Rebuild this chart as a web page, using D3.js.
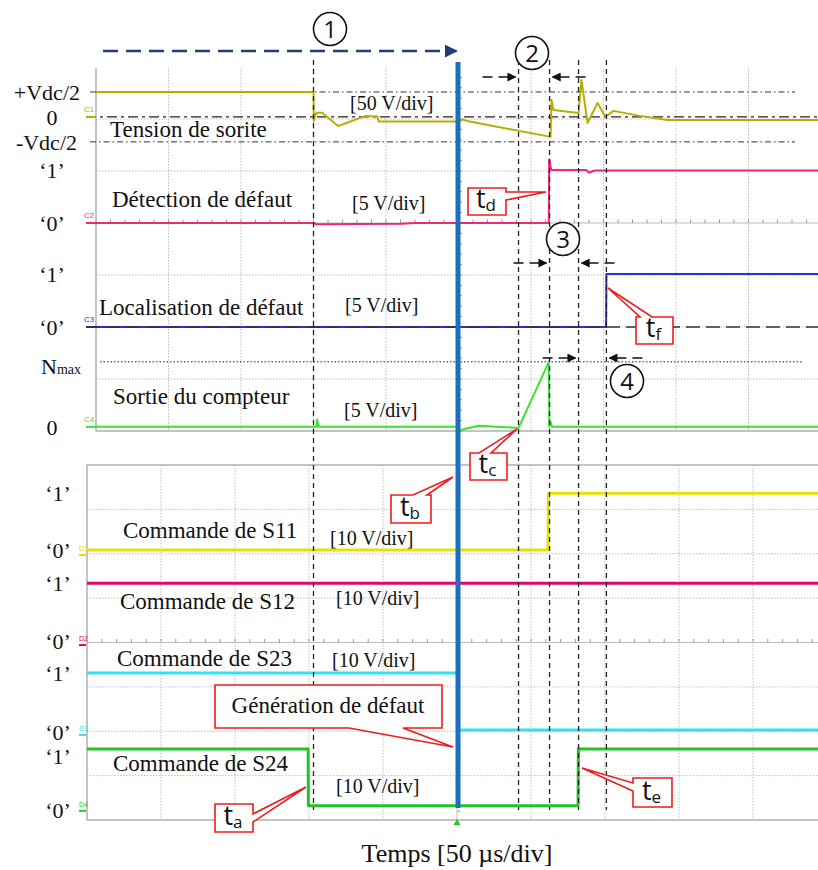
<!DOCTYPE html>
<html>
<head>
<meta charset="utf-8">
<script src="https://cdn.jsdelivr.net/npm/d3@7/dist/d3.min.js"></script>
<style>
  body { margin: 0; background: #fff; }
  .serif { font-family: "Liberation Serif", "Times New Roman", serif; fill: #111; }
  .sans { font-family: "Open Sans", "Liberation Sans", sans-serif; fill: #111; }
</style>
</head>
<body>
<script>
// ---- data (time in µs, trigger at 0 ; levels in volts) ----
var eventT = [-100, 41.4, 62.8, 82.8, 102];          // ta, tc, td, te, tf

// upper screen : C1 output voltage (50 V/div)
var c1T = [-250, -100, -99.8, -99, -98, -94, -83, -64, -56, -55, 0, 3, 6, 63.5, 64.1, 65.5, 82.8, 84.8, 89, 95.9, 101.4, 106.9, 125, 144, 250];
var c1V = [24, 24, -4, 1, 4, 4, -8.7, 1, 0.5, -4.5, -4.5, -2.5, -4, -19.2, 16.3, 6.7, 3.8, 35.6, -5.8, 13.5, 0, 5.8, 1, -2.9, -2.9];
// C2 fault detection (5 V/div)
var c2T = [-250, -100, -98, -40, -30, 62.3, 62.5, 64, 88, 90, 94, 250];
var c2V = [0, 0, -0.12, -0.08, 0, 0, 6.1, 5.1, 5.1, 4.85, 5.05, 5.05];
// C3 fault localisation (5 V/div)
var c3T = [-250, 101.8, 102, 250];
var c3V = [0, 0, 5.1, 5.1];
// C4 counter output (5 V/div)
var c4T = [-250, -98, -97.5, -96.5, 0, 1, 4, 14, 41.4, 62.3, 62.6, 63.5, 64.5, 250];
var c4V = [0, 0, 0.7, 0, 0, -0.4, -0.2, 0.1, -0.1, 6.25, 0, 0.5, 0, 0];

// lower screen : gate commands (10 V/div)
var s11T = [-250, 61.5, 61.8, 250];
var s11V = [0, 0, 12.8, 12.8];
var s12T = [-250, 250];
var s12V = [12.8, 12.8];
var s23T = [-250, 0.4, 0.6, 250];
var s23V = [12.8, 12.8, 0, 0];
var s24T = [-250, -100.6, -100.4, 81.8, 82, 250];
var s24V = [12.8, 12.8, 0, 0, 12.8, 12.8];

// level tick labels
var upLabText = ["+Vdc/2", "0", "-Vdc/2", "\u20181\u2019", "\u20180\u2019", "\u20181\u2019", "\u20180\u2019", "Nmax", "0"];
var upLabChan = [0, 0, 0, 1, 1, 2, 2, 3, 3];
var upLabVal  = [24, 0, -24, 5.1, 0, 5.1, 0, 6.25, 0];
var loLabText = ["\u20181\u2019", "\u20180\u2019", "\u20181\u2019", "\u20180\u2019", "\u20181\u2019", "\u20180\u2019", "\u20181\u2019", "\u20180\u2019"];
var loLabChan = [0, 0, 1, 1, 2, 2, 3, 3];
var loLabVal  = [12.8, 0, 12.8, -0.3, 12.8, -0.5, 11.2, -1.1];

var upNames = ["Tension de sorite", "D\u00e9tection de d\u00e9faut", "Localisation de d\u00e9faut", "Sortie du compteur"];
var upScales = ["[50 V/div]", "[5 V/div]", "[5 V/div]", "[5 V/div]"];
var loNames = ["Commande de S11", "Commande de S12", "Commande de S23", "Commande de S24"];
var loScales = ["[10 V/div]", "[10 V/div]", "[10 V/div]", "[10 V/div]"];

// ---- layout ----
var width = 818, height = 870;
var svg = d3.select("body").append("svg")
    .attr("width", width).attr("height", height);

var defs = svg.append("defs");
defs.append("marker").attr("id", "headK")
    .attr("viewBox", "0 0 10 10").attr("refX", 9).attr("refY", 5)
    .attr("markerWidth", 9).attr("markerHeight", 9).attr("markerUnits", "userSpaceOnUse")
    .attr("orient", "auto")
  .append("path").attr("d", "M0,0L10,5L0,10z").attr("fill", "#111");
defs.append("marker").attr("id", "headB")
    .attr("viewBox", "0 0 10 10").attr("refX", 9).attr("refY", 5)
    .attr("markerWidth", 13).attr("markerHeight", 13).attr("markerUnits", "userSpaceOnUse")
    .attr("orient", "auto")
  .append("path").attr("d", "M0,0L10,5L0,10z").attr("fill", "#1f3d78");

// scales: 10 time divisions of 50 µs, 8 vertical divisions
var upX = d3.scaleLinear().domain([-250, 250]).range([96, 821]);
var loX = d3.scaleLinear().domain([-250, 250]).range([87, 827]);
var upDiv = d3.scaleLinear().domain([-4, 4]).range([431, 15]);
var loDiv = d3.scaleLinear().domain([-4, 4]).range([820, 465]);

var upCh = [
  {t: c1T, v: c1V, ground: 2.04, vdiv: 50, color: "#b4b000", tag: "C1"},
  {t: c2T, v: c2V, ground: 0, vdiv: 5, color: "#f0267f", tag: "C2"},
  {t: c3T, v: c3V, ground: -2.0, vdiv: 5, color: "#2a2ee0", tag: "C3"},
  {t: c4T, v: c4V, ground: -3.92, vdiv: 5, color: "#35e435", tag: "C4"}
];
var loCh = [
  {t: s11T, v: s11V, ground: 2.085, vdiv: 10, color: "#e6e100", tag: "D1"},
  {t: s12T, v: s12V, ground: 0.056, vdiv: 10, color: "#d80a62", tag: "D2"},
  {t: s23T, v: s23V, ground: -1.97, vdiv: 10, color: "#33e2f0", tag: "D3"},
  {t: s24T, v: s24V, ground: -3.68, vdiv: 10, color: "#22c522", tag: "D4"}
];
upCh.forEach(function(c){ c.y = function(v){ return upDiv(c.ground + v / c.vdiv); }; c.x = upX; });
loCh.forEach(function(c){ c.y = function(v){ return loDiv(c.ground + v / c.vdiv); }; c.x = loX; });

// ---- grids ----
function grid(g, xs, ys, x0, x1, y0, y1){
    var cx = xs(0), cy = ys(0);
    g.selectAll(".vg").data(d3.range(-200, 251, 50)).enter().append("line")
        .attr("x1", xs).attr("x2", xs).attr("y1", y0).attr("y2", y1)
        .attr("stroke", "#bdbdbd").attr("stroke-width", 1)
        .attr("stroke-dasharray", function(d){ return d === 0 ? null : "1.5,1.5"; });
    g.selectAll(".hg").data(d3.range(-3, 4).filter(function(d){ return ys(d) > y0 + 2; })).enter().append("line")
        .attr("x1", x0).attr("x2", x1).attr("y1", ys).attr("y2", ys)
        .attr("stroke", "#bdbdbd").attr("stroke-width", 1)
        .attr("stroke-dasharray", function(d){ return d === 0 ? null : "1.5,1.5"; });
    // minor ticks on centre lines
    g.selectAll(".mx").data(d3.range(-250, 251, 10)).enter().append("line")
        .attr("x1", xs).attr("x2", xs).attr("y1", cy - 3.5).attr("y2", cy)
        .attr("stroke", "#999");
    g.selectAll(".my").data(d3.range(-4, 4.01, 0.2).filter(function(d){ return ys(d) > y0 && ys(d) < y1; }))
        .enter().append("line")
        .attr("x1", cx).attr("x2", cx + 3.5).attr("y1", ys).attr("y2", ys)
        .attr("stroke", "#999");
}
var gUp = svg.append("g");
grid(gUp, upX, upDiv, 96, 818, 68, 431);
gUp.append("path").attr("d", "M96,68V431H818").attr("fill", "none").attr("stroke", "#b0b0b0").attr("stroke-width", 1.5);

var gLo = svg.append("g");
grid(gLo, loX, loDiv, 87, 818, 465, 820);
gLo.append("path").attr("d", "M818,465H87V820H818").attr("fill", "none").attr("stroke", "#b0b0b0").attr("stroke-width", 1.5);

// ---- reference lines on the upper screen ----
var c1 = upCh[0];
svg.append("line").attr("x1", 90).attr("x2", 795).attr("y1", c1.y(24)).attr("y2", c1.y(24))
    .attr("stroke", "#333").attr("stroke-dasharray", "6,3,1.5,3");
svg.append("line").attr("x1", 90).attr("x2", 795).attr("y1", c1.y(-24)).attr("y2", c1.y(-24))
    .attr("stroke", "#333").attr("stroke-dasharray", "6,3,1.5,3");
svg.append("line").attr("x1", 86).attr("x2", 818).attr("y1", c1.y(0)).attr("y2", c1.y(0))
    .attr("stroke", "#222").attr("stroke-width", 1.3).attr("stroke-dasharray", "10,4,3,4");
svg.append("line").attr("x1", 100).attr("x2", 803).attr("y1", upCh[3].y(6.25)).attr("y2", upCh[3].y(6.25))
    .attr("stroke", "#222").attr("stroke-dasharray", "1.5,2");

// ---- traces ----
function drawTrace(c, w){
    var pts = c.t.map(function(t, i){ return [t, c.v[i]]; });
    var line = d3.line().x(function(d){ return c.x(d[0]); }).y(function(d){ return c.y(d[1]); });
    svg.append("path").datum(pts).attr("d", line)
        .attr("fill", "none").attr("stroke", c.color).attr("stroke-width", w)
        .attr("stroke-linejoin", "round");
}
upCh.forEach(function(c){ drawTrace(c, 2); });
loCh.forEach(function(c){ drawTrace(c, 3); });

// channel markers
upCh.forEach(function(c){
    var y = c.y(0);
    svg.append("line").attr("x1", 86).attr("x2", 96).attr("y1", y).attr("y2", y).attr("stroke", c.color).attr("stroke-width", 2);
    svg.append("text").attr("x", 84).attr("y", y - 5).attr("font-size", 8).attr("fill", c.color)
        .attr("font-family", "Liberation Sans").text(c.tag);
});
loCh.forEach(function(c){
    var y = c.y(0);
    svg.append("line").attr("x1", 79).attr("x2", 86).attr("y1", y + 5).attr("y2", y + 5).attr("stroke", c.color).attr("stroke-width", 2);
    svg.append("text").attr("x", 79).attr("y", y + 1).attr("font-size", 7).attr("fill", c.color)
        .attr("font-family", "Liberation Sans").text(c.tag);
});

// long dashed line over localisation '0'
svg.append("line").attr("x1", 86).attr("x2", 818).attr("y1", upCh[2].y(0)).attr("y2", upCh[2].y(0))
    .attr("stroke", "#333").attr("stroke-width", 1.3).attr("stroke-dasharray", "14,6");

// ---- event lines ----
svg.selectAll(".ev").data(eventT).enter().append("line")
    .attr("x1", upX).attr("x2", upX).attr("y1", 60).attr("y2", 810)
    .attr("stroke", "#222").attr("stroke-width", 1.3).attr("stroke-dasharray", "5,4");

// trigger (fault generation)
svg.append("line").attr("x1", upX(0) - 0.5).attr("x2", upX(0) - 0.5).attr("y1", 62).attr("y2", 808)
    .attr("stroke", "#1b6fbe").attr("stroke-width", 5);
svg.append("path").attr("d", "M" + (loX(0)) + ",819l-3.5,6h7z").attr("fill", "#22c522");

// ---- labels ----
upLabText.forEach(function(s, i){
    var y = upCh[upLabChan[i]].y(upLabVal[i]);
    var t = svg.append("text").attr("class", "serif").attr("font-size", 22)
        .attr("y", y).attr("dy", "0.35em");
    if (s.indexOf("Vdc") >= 0) {
        t.attr("x", s[0] === "+" ? 80 : 77).attr("text-anchor", "end").text(s);
    } else if (s === "Nmax") {
        t.attr("x", 41).attr("dy", "0.55em");
        t.append("tspan").text("N");
        t.append("tspan").attr("font-size", 14).text("max");
    } else {
        t.attr("x", 52).attr("text-anchor", "middle").text(s);
    }
});
loLabText.forEach(function(s, i){
    svg.append("text").attr("class", "serif").attr("font-size", 22)
        .attr("x", 58).attr("y", loCh[loLabChan[i]].y(loLabVal[i])).attr("dy", "0.35em")
        .attr("text-anchor", "middle").text(s);
});

var upNameXY = [[110, 137], [112, 207], [99, 315], [113, 404]];
var upScaleXY = [[350, 110], [352, 210], [345, 312], [344, 417]];
var loNameXY = [[123, 538], [120, 609], [117, 666], [113, 771]];
var loScaleXY = [[330, 545], [336, 605], [332, 667], [336, 793]];
function putText(arr, xy, size){
    arr.forEach(function(s, i){
        svg.append("text").attr("class", "serif").attr("font-size", size)
            .attr("x", xy[i][0]).attr("y", xy[i][1]).text(s);
    });
}
putText(upNames, upNameXY, 23);
putText(upScales, upScaleXY, 20);
putText(loNames, loNameXY, 23);
putText(loScales, loScaleXY, 20);

svg.append("text").attr("class", "serif").attr("font-size", 26)
    .attr("x", 457).attr("y", 862).attr("text-anchor", "middle").text("Temps [50 \u00b5s/div]");

// ---- callouts ----
function callout(b, side, a, c, tip){
    var x0 = b[0], y0 = b[1], x1 = b[2], y1 = b[3];
    var p = [[x0, y0]];
    if (side === "top") p.push([a, y0], tip, [c, y0]);
    p.push([x1, y0]);
    if (side === "right") p.push([x1, a], tip, [x1, c]);
    p.push([x1, y1]);
    if (side === "bottom") p.push([c, y1], tip, [a, y1]);
    p.push([x0, y1]);
    if (side === "left") p.push([x0, c], tip, [x0, a]);
    svg.append("path").attr("d", "M" + p.join("L") + "Z")
        .attr("fill", "#fff").attr("stroke", "#ee1c1c").attr("stroke-width", 1.6)
        .attr("stroke-linejoin", "miter");
}
function tLabel(b, sub){
    var t = svg.append("text").attr("class", "sans").attr("font-size", 27)
        .attr("x", (b[0] + b[2]) / 2 - 1).attr("y", b[3] - 7).attr("text-anchor", "middle");
    t.append("tspan").text("t");
    t.append("tspan").attr("font-size", 17).attr("dy", 3).text(sub);
}
var calloutSub = ["d", "f", "c", "b", "a", "e"];
var boxes = [[468, 188, 506, 215], [636, 317, 673, 344], [470, 453, 507, 480], [391, 495, 431, 523], [215, 804, 253, 832], [633, 778, 672, 807]];
callout(boxes[0], "right", 192, 200, [546, 192]);
callout(boxes[1], "top", 640, 652, [608, 288]);
callout(boxes[2], "top", 479, 491, [517, 429]);
callout(boxes[3], "top", 413, 427, [453, 477]);
callout(boxes[4], "right", 814, 822, [306, 787]);
callout(boxes[5], "left", 783, 791, [582, 768]);
boxes.forEach(function(b, i){ tLabel(b, calloutSub[i]); });

callout([215, 685, 442, 728], "bottom", 349, 403, [453, 747]);
svg.append("text").attr("class", "serif").attr("font-size", 23)
    .attr("x", 328).attr("y", 713).attr("text-anchor", "middle").text("G\u00e9n\u00e9ration de d\u00e9faut");

// ---- interval arrows and numbers ----
svg.append("line").attr("x1", 103).attr("x2", upX(0) - 2).attr("y1", 51).attr("y2", 51)
    .attr("stroke", "#1f3d78").attr("stroke-width", 2.5).attr("stroke-dasharray", "15,8")
    .attr("marker-end", "url(#headB)");

var spans = [[1, 2, 77], [2, 3, 263], [3, 4, 358]];   // between event lines
spans.forEach(function(s){
    var xa = upX(eventT[s[0]]), xb = upX(eventT[s[1]]), y = s[2];
    svg.append("line").attr("x1", xa - 36).attr("x2", xa - 3).attr("y1", y).attr("y2", y)
        .attr("stroke", "#111").attr("stroke-width", 1.5).attr("stroke-dasharray", "10,6,40")
        .attr("marker-end", "url(#headK)");
    svg.append("line").attr("x1", xb + 36).attr("x2", xb + 3).attr("y1", y).attr("y2", y)
        .attr("stroke", "#111").attr("stroke-width", 1.5).attr("stroke-dasharray", "10,6,40")
        .attr("marker-end", "url(#headK)");
});

var circNum = ["1", "2", "3", "4"];
var circXY = [[330, 29], [532, 53], [563, 239], [627, 381]];
circNum.forEach(function(n, i){
    svg.append("circle").attr("cx", circXY[i][0]).attr("cy", circXY[i][1]).attr("r", 16.5)
        .attr("fill", "#fff").attr("stroke", "#111").attr("stroke-width", 1.6);
    svg.append("text").attr("class", "sans").attr("font-size", 24)
        .attr("x", circXY[i][0]).attr("y", circXY[i][1]).attr("dy", "0.36em")
        .attr("text-anchor", "middle").text(n);
});
</script>
</body>
</html>
